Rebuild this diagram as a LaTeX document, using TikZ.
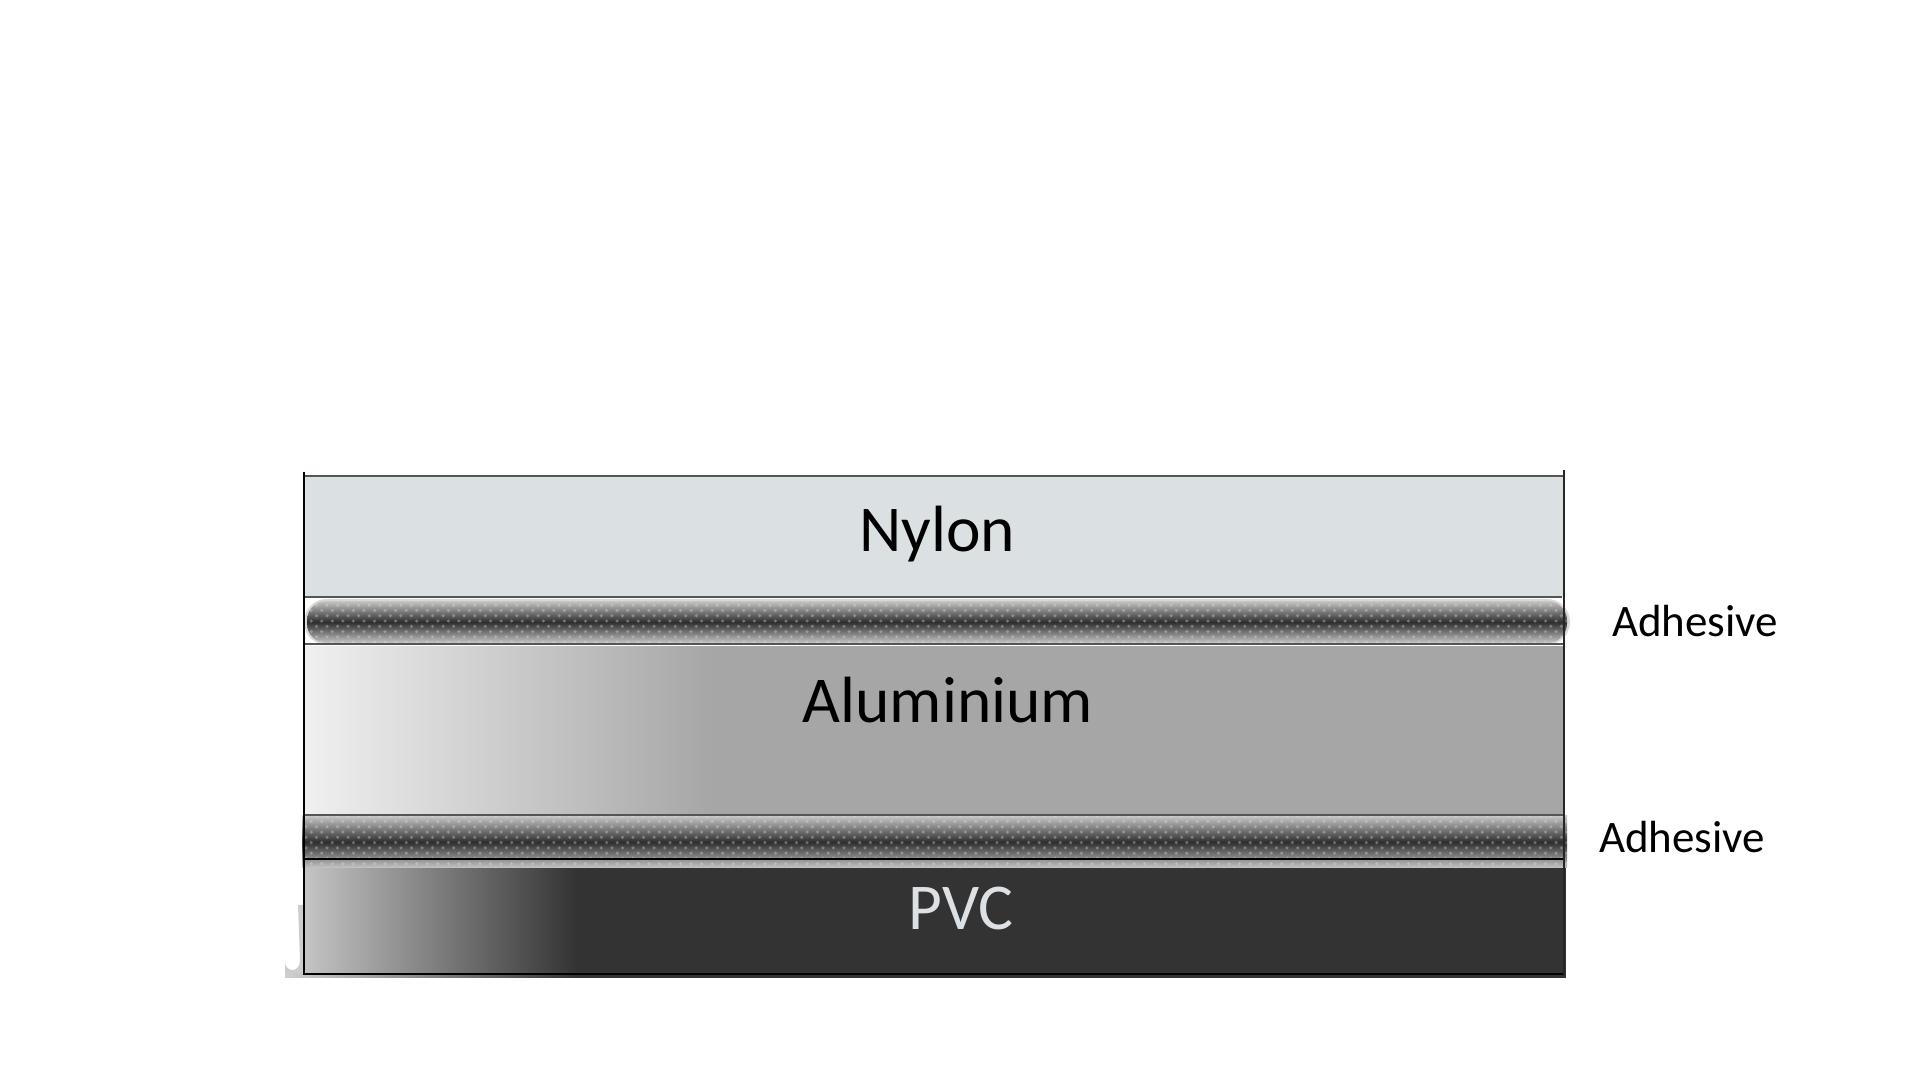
\documentclass[tikz,border=0pt]{standalone}
\usepackage{fontspec}
\setmainfont{Carlito}
\usetikzlibrary{patterns}
\definecolor{nylonc}{HTML}{DBE0E3}
\definecolor{aluL}{HTML}{F0F0F0}
\definecolor{aluR}{HTML}{A6A6A6}
\definecolor{pvcL}{HTML}{C4C4C4}
\definecolor{pvcR}{HTML}{333333}
\definecolor{pvctext}{HTML}{DDE1E3}
\definecolor{edgec}{HTML}{555555}
\tikzset{
  bigtext/.style={font=\fontsize{18.6}{21}\selectfont, anchor=base, inner sep=0pt},
  sidetext/.style={font=\fontsize{12.8}{15}\selectfont, anchor=base, inner sep=0pt, text=black},
  gumshade/.style={top color=gray!45, bottom color=gray!45, middle color=black!82},
  gumtex/.style={pattern=crosshatch dots, pattern color=white!75!gray, opacity=0.35},
  rim/.style={draw=edgec, line width=0.6pt},
}
\begin{document}
\begin{tikzpicture}[x=0.01cm,y=-0.01cm]
\useasboundingbox (0,0) rectangle (1920,1080);
\fill[white] (0,0) rectangle (1920,1080);
% small shadow at lower left
\fill[gray!40] (298,905) -- (304,905) -- (304,978) -- (285,978) -- (285,962) .. controls (285,972) and (300,974) .. (300,960) -- cycle;
% Nylon
\fill[nylonc] (304,476) rectangle (1564,597);
% Aluminium
\fill[aluR] (304,645) rectangle (1564,815);
\shade[left color=aluL, right color=aluR] (304,645) rectangle (712,815);
% Adhesive 1 (fuzzy rounded band)
\fill[white] (304,598) rectangle (1570,646.5);
\fill[gray!30, rounded corners=6.5pt] (304,599) rectangle (1570,645);
\shade[gumshade, rounded corners=5.5pt] (307,601) rectangle (1567,643);
\fill[gumtex, rounded corners=5.5pt] (307,601) rectangle (1567,643);
% PVC
\fill[pvcR] (304,859) rectangle (1566,978);
\shade[left color=pvcL, right color=pvcR] (304,859) rectangle (577,975);
\shade[left color=pvcL!80, right color=pvcR] (285,974) rectangle (577,978);
% Adhesive 2
\shade[gumshade] (302,816) rectangle (1567,868);
\fill[gumtex] (302,816) rectangle (1567,868);
% rims
\draw[rim] (304,476) -- (1564,476);
\draw[rim] (304,597) -- (1562,597);
\draw[rim] (304,644) -- (1564,644);
\draw[rim] (304,815) -- (1564,815);
\draw[black, line width=0.45pt] (304,859) -- (1564,859);
\draw[black, line width=0.6pt] (304,974) -- (1564,974);
\draw[black, line width=0.6pt] (304,472) -- (304,975);
\draw[black!85, line width=0.6pt] (1564,470) -- (1564,976);
% labels
\node[bigtext, text=black] (nylon) at (937,552) {Nylon};
\node[bigtext, text=black] (alu) at (948,723) {Aluminium};
\node[bigtext, text=pvctext] (pvc) at (961,930) {PVC};
\node[sidetext] (adh1) at (1695,637) {Adhesive};
\node[sidetext] (adh2) at (1682,853) {Adhesive};
\end{tikzpicture}
\end{document}
